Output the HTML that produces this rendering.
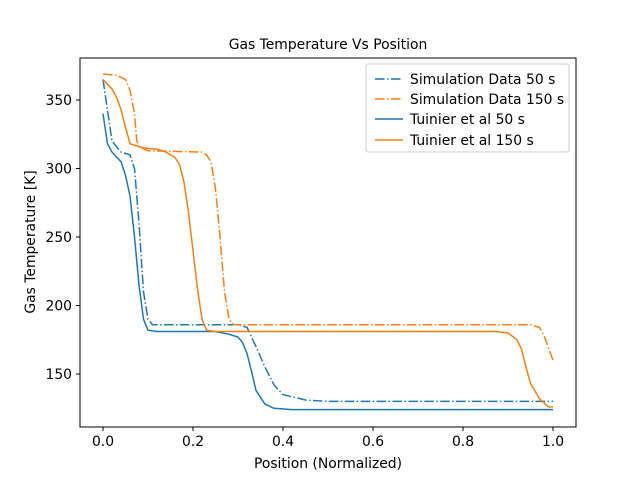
<!DOCTYPE html>
<html><head><meta charset="utf-8"><style>
body{margin:0;background:#fff;}
svg{display:block;font-family:"DejaVu Sans","Liberation Sans",sans-serif;}
</style></head><body>
<svg id="s" width="640" height="480" xmlns="http://www.w3.org/2000/svg">
<rect width="640" height="480" fill="#fff"/>
<g id="curves"></g>
<rect x="80" y="58" width="496" height="369" fill="none" stroke="#000" stroke-width="1"/>
<g stroke="#000" stroke-width="1">
<line x1="103" y1="427" x2="103" y2="431"/><line x1="193" y1="427" x2="193" y2="431"/>
<line x1="283" y1="427" x2="283" y2="431"/><line x1="373" y1="427" x2="373" y2="431"/>
<line x1="463" y1="427" x2="463" y2="431"/><line x1="553" y1="427" x2="553" y2="431"/>
<line x1="76" y1="374" x2="80" y2="374"/><line x1="76" y1="305.5" x2="80" y2="305.5"/>
<line x1="76" y1="237" x2="80" y2="237"/><line x1="76" y1="168.5" x2="80" y2="168.5"/>
<line x1="76" y1="100" x2="80" y2="100"/>
</g>
<g font-size="13.9" fill="#000" text-anchor="middle">
<text x="103" y="446">0.0</text><text x="193" y="446">0.2</text><text x="283" y="446">0.4</text>
<text x="373" y="446">0.6</text><text x="463" y="446">0.8</text><text x="553" y="446">1.0</text>
</g>
<g font-size="13.9" fill="#000" text-anchor="end">
<text x="72" y="379">150</text><text x="72" y="310.5">200</text><text x="72" y="242">250</text>
<text x="72" y="173.5">300</text><text x="72" y="105">350</text>
</g>
<text x="328" y="468" font-size="13.9" text-anchor="middle">Position (Normalized)</text>
<text x="35" y="242" font-size="13.9" text-anchor="middle" transform="rotate(-90 35 242)">Gas Temperature [K]</text>
<text x="328" y="49" font-size="13.9" text-anchor="middle">Gas Temperature Vs Position</text>
<rect x="366" y="64" width="203" height="88" rx="2" fill="#fff" fill-opacity="0.8" stroke="#ccc"/>
<g stroke-width="1.5" fill="none">
<line x1="375" y1="79" x2="403" y2="79" stroke="#1f77b4" stroke-dasharray="9.6,2.4,1.5,2.4"/>
<line x1="375" y1="99" x2="403" y2="99" stroke="#ff7f0e" stroke-dasharray="9.6,2.4,1.5,2.4"/>
<line x1="375" y1="119" x2="403" y2="119" stroke="#1f77b4"/>
<line x1="375" y1="140" x2="403" y2="140" stroke="#ff7f0e"/>
</g>
<g font-size="13.9" fill="#000">
<text x="410" y="84">Simulation Data 50 s</text>
<text x="410" y="104">Simulation Data 150 s</text>
<text x="410" y="124">Tuinier et al 50 s</text>
<text x="410" y="145">Tuinier et al 150 s</text>
</g>
</svg>
<script>
var D=[
["#1f77b4",1,[[0,365],[0.02,320],[0.04,312],[0.06,310],[0.07,300],[0.08,260],[0.09,210],[0.1,190],[0.11,186],[0.3,186],[0.32,184],[0.34,170],[0.36,155],[0.38,142],[0.4,135],[0.45,131],[0.5,130],[1,130]]],
["#ff7f0e",1,[[0,369],[0.03,368],[0.05,365],[0.06,357],[0.07,340],[0.075,320],[0.08,316],[0.1,313],[0.22,312],[0.23,310],[0.24,305],[0.25,285],[0.26,250],[0.27,210],[0.28,190],[0.29,186],[0.95,186],[0.97,184],[0.98,178],[1,160]]],
["#1f77b4",0,[[0,340],[0.01,318],[0.02,312],[0.04,305],[0.05,295],[0.06,280],[0.07,250],[0.08,215],[0.09,190],[0.1,182],[0.12,181],[0.25,181],[0.28,179],[0.3,177],[0.31,173],[0.32,165],[0.33,152],[0.34,138],[0.36,128],[0.38,125],[0.42,124],[1,124]]],
["#ff7f0e",0,[[0,365],[0.02,358],[0.03,352],[0.04,343],[0.05,330],[0.06,318],[0.08,316],[0.09,315],[0.12,314],[0.14,312],[0.16,308],[0.17,303],[0.18,290],[0.19,268],[0.2,240],[0.21,212],[0.22,190],[0.23,182],[0.25,181],[0.87,181],[0.9,180],[0.92,175],[0.93,168],[0.94,155],[0.95,143],[0.97,132],[0.99,126],[1,126]]]
];
var g=document.getElementById("curves"),h="";
D.forEach(function(c){var p=c[2].map(function(q){return (103+450*q[0]).toFixed(1)+","+(100+(350-q[1])*1.37).toFixed(1)}).join(" ");
h+='<polyline points="'+p+'" fill="none" stroke="'+c[0]+'" stroke-width="1.5"'+(c[1]?' stroke-dasharray="9.6,2.4,1.5,2.4"':'')+'/>';});
g.innerHTML=h;
</script>
</body></html>
